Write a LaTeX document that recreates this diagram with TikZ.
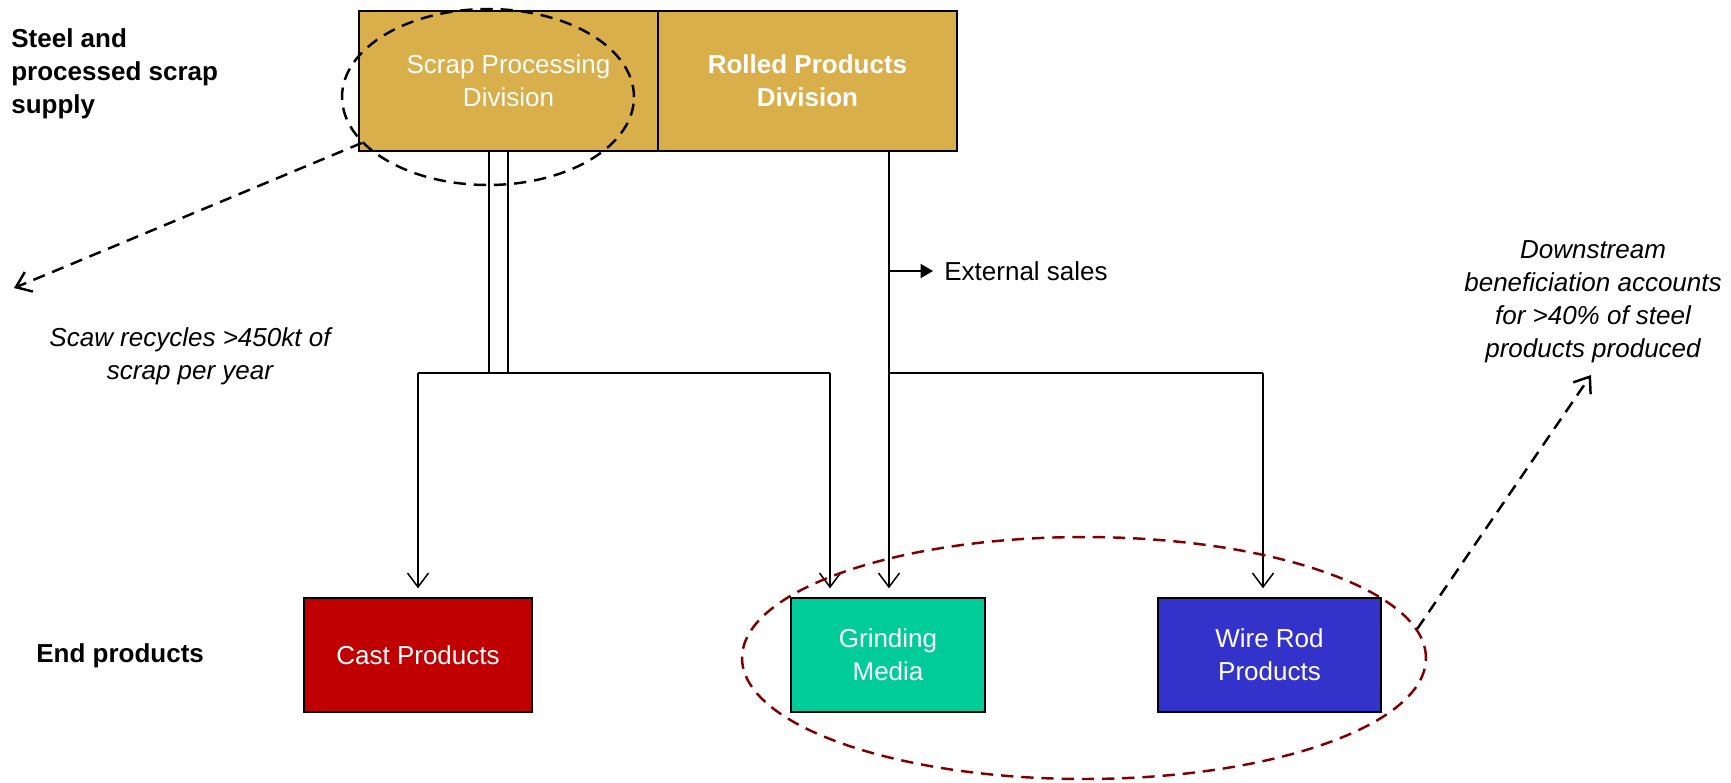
\documentclass[tikz,border=0pt]{standalone}
\usepackage{fontspec}
\setmainfont{Liberation Sans}
\usetikzlibrary{arrows.meta,shapes.geometric}
\definecolor{divgold}{HTML}{D9AF4B}
\definecolor{castred}{HTML}{C00000}
\definecolor{grindteal}{HTML}{00CC99}
\definecolor{wireblue}{HTML}{3333CC}
\definecolor{ringred}{HTML}{800000}

\begin{document}
\begin{tikzpicture}[x=0.02cm,y=-0.02cm,line join=miter,
    >={Straight Barb[length=8pt,width=12pt]},
    font=\fontsize{14.8}{18.7}\selectfont,
    divbox/.style={draw=black,line width=1.1pt,fill=divgold,text=white,minimum width=5.98cm,minimum height=2.8cm,align=center,inner sep=0pt},
    prodbox/.style={draw=black,line width=1.1pt,text=white,minimum height=2.28cm,align=center,inner sep=0pt},
    flow/.style={line width=0.85pt},
    ringline/.style={ellipse,draw,line width=1.4pt,dash pattern=on 7pt off 4.5pt,inner sep=0pt},
    note/.style={font=\fontsize{14.8}{18.7}\selectfont\itshape,align=center}]
    \useasboundingbox (0,0) rectangle (1731,782);
    % divisions
    \node[divbox] (scrap) at (508.5,81) {Scrap Processing\\Division};
    \node[divbox,font=\fontsize{14.8}{18.7}\selectfont\bfseries] (rolled) at (807.5,81) {Rolled Products\\Division};
    % end products
    \node[prodbox,fill=castred,minimum width=4.56cm] (cast) at (418,655) {Cast Products};
    \node[prodbox,fill=grindteal,minimum width=3.88cm] (grind) at (888,655) {Grinding\\Media};
    \node[prodbox,fill=wireblue,minimum width=4.46cm] (wire) at (1269.5,655) {Wire Rod\\Products};
    % row labels
    \node[anchor=west,align=left,inner sep=0pt,font=\fontsize{14.8}{18.7}\selectfont\bfseries] (supply) at (11,74) {Steel and\\processed scrap\\supply};
    \node[anchor=west,inner sep=0pt,font=\fontsize{14.8}{18.7}\selectfont\bfseries] (endprod) at (36,656) {End products};
    % scrap flow
    \coordinate (splitA) at (489,373);
    \coordinate (splitB) at (508,373);
    \coordinate (castTop) at (418,373);
    \coordinate (grindTop) at (830,373);
    \draw[flow] (scrap.south -| splitA) -- (splitA);
    \draw[flow] (scrap.south -| splitB) -- (splitB);
    \draw[flow] (castTop) -- (grindTop);
    \draw[flow,->,shorten >=5pt] (castTop) -- (cast.north);
    \draw[flow,->,shorten >=5pt] (grindTop) -- (grind.north -| grindTop);
    % rolled flow
    \coordinate (rollSplit) at (889,373);
    \coordinate (extSplit) at (889,271);
    \coordinate (wireTop) at (1263,373);
    \draw[flow,->,shorten >=5pt] (rolled.south -| rollSplit) -- (grind.north -| rollSplit);
    \draw[flow] (rollSplit) -- (wireTop);
    \draw[flow,->,shorten >=5pt] (wireTop) -- (wire.north -| wireTop);
    \draw[flow,-{Triangle[length=7pt,width=8pt]}] (extSplit) -- ++(44,0) coordinate (extEnd);
    \node[anchor=west,inner sep=0pt] (extsales) at ([xshift=0.22cm]extEnd) {External sales};
    % highlights
    \node[ringline,minimum width=5.84cm,minimum height=3.52cm] (scrapRing) at (488,97) {};
    \node[ringline,draw=ringred,minimum width=13.68cm,minimum height=4.84cm] (beneRing) at (1084,658) {};
    \coordinate (scrapTip) at (14,288);
    \coordinate (beneTip) at (1591,375);
    \draw[line width=1.4pt,dash pattern=on 7pt off 4.5pt,->] (scrapRing.200) -- (scrapTip);
    \draw[line width=1.4pt,dash pattern=on 7pt off 4.5pt,->] (beneRing.5) -- (beneTip);
    % notes
    \node[note] (scrapNote) at (190,356) {Scaw recycles >450kt of\\scrap per year};
    \node[note] (beneNote) at (1593,302) {Downstream\\beneficiation accounts\\for >40\% of steel\\products produced};
\end{tikzpicture}
\end{document}
